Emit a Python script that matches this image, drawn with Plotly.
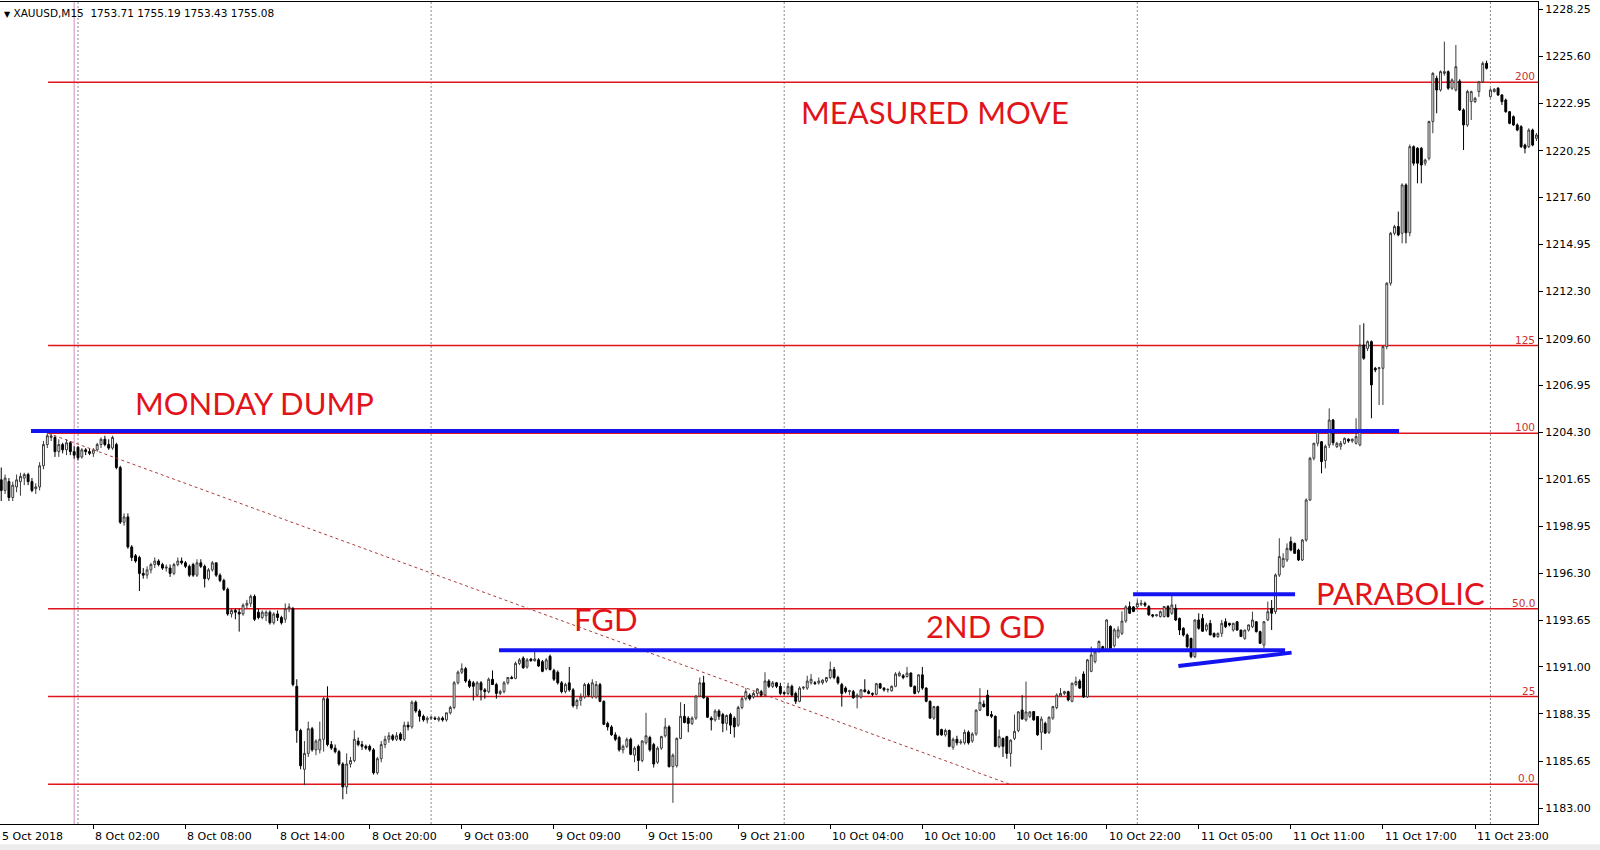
import plotly.graph_objects as go

# ---------------- data (XAUUSD M15, bar index 0 = 5 Oct 19:00) ----------------
opens = [
 1201.6,1201.0,1201.5,1200.6,1201.2,1201.5,1201.7,1201.9,1201.5,1201.1,
 1201.2,1202.4,1203.6,1204.0,1204.0,1203.2,1203.6,1203.3,1203.7,1203.2,
 1203.45,1202.9,1203.3,1203.2,1203.1,1203.3,1203.6,1203.9,1203.6,1203.4,
 1203.6,1202.3,1199.2,1199.5,1197.8,1197.3,1197.2,1196.3,1196.2,1196.5,
 1196.8,1197.0,1196.8,1196.6,1196.6,1196.3,1196.8,1197.0,1196.9,1196.7,
 1196.8,1196.2,1196.9,1196.7,1196.0,1196.5,1196.9,1196.2,1195.9,1195.4,
 1194.0,1194.2,1194.1,1194.0,1194.5,1194.6,1195.0,1194.1,1193.8,1193.9,
 1194.1,1193.5,1194.0,1193.8,1193.7,1194.3,1194.3,1189.9,1187.4,1185.2,
 1186.1,1187.5,1186.3,1186.3,1186.9,1189.2,1186.6,1186.4,1186.2,1185.5,
 1184.2,1185.5,1185.7,1186.8,1186.6,1186.5,1186.5,1186.3,1185.0,1185.8,
 1186.6,1186.9,1187.1,1186.9,1187.2,1186.9,1187.7,1187.6,1189.0,1188.5,
 1188.2,1188.0,1188.1,1188.1,1188.0,1188.1,1188.0,1188.4,1188.7,1190.1,
 1190.7,1190.9,1190.2,1190.1,1189.4,1190.1,1189.7,1189.6,1190.3,1190.0,
 1189.5,1189.6,1190.1,1190.4,1190.35,1191.2,1191.5,1191.0,1191.45,1191.35,
 1191.4,1191.3,1190.9,1191.6,1190.8,1190.7,1190.1,1189.6,1190.1,1189.7,
 1188.8,1189.1,1189.3,1190.0,1189.3,1189.3,1190.0,1189.05,1187.8,1187.6,
 1187.15,1187.0,1186.3,1186.5,1186.9,1186.0,1186.5,1185.7,1186.7,1187.0,
 1186.6,1185.6,1186.4,1187.1,1187.6,1185.35,1185.4,1186.95,1188.2,1188.1,
 1187.8,1188.1,1189.35,1190.1,1189.25,1188.1,1188.0,1188.5,1188.3,1187.8,
 1188.3,1188.1,1187.7,1188.7,1189.2,1189.4,1189.3,1189.5,1189.6,1189.4,
 1190.2,1189.9,1190.1,1189.9,1189.55,1189.5,1189.9,1189.5,1189.05,1189.8,
 1189.8,1190.1,1190.1,1190.1,1190.1,1190.2,1190.4,1190.85,1190.4,1190.0,
 1189.8,1189.6,1189.6,1189.3,1189.3,1189.7,1189.6,1189.5,1189.45,1190.05,
 1189.8,1189.7,1189.65,1189.9,1190.5,1190.5,1190.45,1190.65,1189.9,1189.6,
 1190.55,1189.8,1189.05,1188.1,1188.75,1187.45,1187.15,1187.4,1186.45,1186.9,
 1186.7,1186.7,1187.3,1186.8,1187.2,1188.55,1188.9,1189.4,1188.3,1188.2,
 1186.5,1186.95,1187.05,1186.1,1186.95,1187.4,1188.56,1188.0,1188.2,1188.47,
 1188.19,1187.3,1187.8,1187.3,1188.1,1188.7,1189.35,1189.5,1189.6,1189.05,
 1190.0,1190.2,1190.6,1189.3,1190.75,1191.3,1191.87,1192.15,1192.0,1193.3,
 1192.2,1192.7,1192.9,1193.6,1194.42,1194.4,1194.4,1194.55,1194.6,1194.42,
 1193.95,1193.9,1193.85,1193.85,1194.42,1194.04,1194.32,1193.75,1193.19,1192.81,
 1192.62,1191.58,1193.66,1193.75,1193.1,1193.47,1192.9,1192.72,1192.9,1193.56,
 1193.47,1193.09,1193.56,1193.09,1192.62,1193.09,1193.28,1193.56,1193.0,1192.24,
 1193.66,1194.32,1194.13,1196.21,1196.68,1197.06,1198.1,1198.0,1197.62,1197.06,
 1198.19,1200.46,1202.82,1203.67,1203.76,1202.7,1203.57,1204.99,1203.48,1203.5,
 1203.67,1203.9,1203.8,1203.67,1203.58,1209.24,1209.05,1209.43,1207.92,1207.9,
 1207.92,1209.15,1212.74,1215.57,1215.95,1215.57,1218.31,1215.6,1220.48,1220.39,
 1220.39,1219.54,1219.82,1221.9,1224.35,1223.69,1224.63,1224.73,1223.79,1223.69,
 1224.2,1222.56,1221.71,1223.03,1223.03,1223.6,1224.16,1225.2,1223.31,1223.6,
 1223.79,1223.41,1223.12,1222.46,1222.18,1221.71,1221.61,1220.57,1220.48,1221.42,
 1220.95]
highs = [
 1202.3,1201.9,1201.7,1201.5,1201.9,1202.0,1202.0,1202.0,1201.7,1201.4,
 1202.6,1203.8,1204.3,1204.3,1204.1,1203.9,1203.7,1203.9,1203.8,1203.5,
 1203.5,1203.4,1203.4,1203.4,1203.4,1203.7,1204.0,1204.1,1203.9,1204.1,
 1203.7,1202.4,1199.7,1199.7,1197.9,1197.4,1197.3,1196.6,1196.7,1196.9,
 1197.2,1197.1,1196.9,1196.8,1196.8,1196.9,1197.2,1197.2,1197.0,1196.8,
 1196.9,1197.1,1197.1,1196.8,1196.6,1197.0,1196.9,1196.3,1196.0,1195.5,
 1194.3,1194.3,1194.3,1194.6,1194.8,1195.1,1195.1,1194.3,1194.2,1194.2,
 1194.2,1194.1,1194.2,1193.9,1194.6,1194.6,1194.4,1190.3,1187.5,1186.8,
 1187.9,1187.6,1186.9,1187.9,1189.3,1189.9,1186.8,1186.6,1186.3,1185.6,
 1186.1,1185.9,1187.4,1187.0,1186.8,1186.6,1186.6,1186.4,1185.9,1186.8,
 1187.1,1187.3,1187.2,1187.3,1187.3,1187.9,1187.9,1189.1,1189.1,1188.6,
 1188.3,1188.2,1188.2,1188.2,1188.2,1188.2,1188.4,1188.8,1190.2,1190.8,
 1191.2,1191.0,1190.3,1190.2,1190.2,1190.2,1189.8,1190.4,1190.8,1190.1,
 1189.7,1190.2,1190.4,1190.5,1191.3,1191.5,1191.6,1191.5,1191.5,1191.9,
 1191.5,1191.4,1191.5,1191.7,1190.9,1190.8,1190.2,1190.1,1191.0,1189.8,
 1189.2,1189.5,1190.1,1190.1,1190.3,1190.2,1190.1,1189.1,1187.9,1187.7,
 1187.3,1187.1,1186.6,1187.0,1187.0,1186.5,1186.6,1186.85,1188.4,1187.1,
 1186.7,1186.5,1187.1,1188.1,1187.7,1186.1,1187.0,1189.0,1188.9,1188.2,
 1188.2,1189.4,1190.4,1190.5,1189.3,1188.2,1188.6,1188.6,1188.4,1188.3,
 1188.4,1188.2,1188.8,1189.3,1189.8,1189.5,1189.6,1189.8,1189.7,1190.7,
 1190.3,1190.2,1190.15,1190.1,1189.6,1190.1,1190.0,1189.6,1189.9,1189.9,
 1190.5,1190.6,1190.2,1190.4,1190.3,1190.4,1191.3,1191.0,1190.5,1190.1,
 1189.9,1189.7,1189.7,1189.5,1189.75,1190.3,1189.7,1189.55,1190.1,1190.1,
 1189.85,1189.8,1189.95,1190.7,1190.75,1190.6,1191.0,1190.7,1189.95,1190.6,
 1191.0,1189.85,1189.1,1188.8,1188.8,1187.5,1187.5,1187.45,1187.0,1187.1,
 1186.9,1187.45,1187.4,1187.3,1188.6,1189.8,1189.1,1189.7,1188.5,1188.25,
 1187.45,1187.0,1187.1,1186.9,1188.3,1188.5,1189.4,1190.17,1188.5,1188.5,
 1188.2,1188.2,1187.9,1188.2,1188.8,1189.5,1189.8,1189.65,1189.65,1190.1,
 1190.45,1190.3,1190.75,1191.45,1192.15,1191.9,1192.5,1192.2,1193.7,1193.35,
 1193.2,1193.3,1194.15,1194.5,1194.7,1194.45,1194.8,1194.8,1194.7,1194.5,
 1194.0,1194.0,1194.2,1194.45,1194.5,1195.13,1194.55,1193.8,1193.25,1192.9,
 1192.65,1193.7,1194.04,1194.0,1193.5,1193.66,1192.95,1192.95,1193.66,1193.75,
 1193.5,1193.5,1193.6,1193.1,1193.1,1193.4,1194.13,1193.6,1193.05,1193.6,
 1194.7,1194.79,1196.3,1198.29,1197.44,1198.0,1198.38,1198.05,1197.7,1198.25,
 1200.55,1202.9,1203.7,1204.42,1203.8,1203.6,1205.65,1205.05,1203.75,1203.8,
 1204.0,1203.95,1203.95,1205.09,1210.38,1210.47,1209.5,1209.5,1208.0,1208.0,
 1209.2,1212.8,1215.65,1216.05,1216.8,1218.4,1218.4,1220.6,1220.55,1220.45,
 1220.45,1219.8,1221.95,1224.7,1224.5,1224.8,1226.43,1224.8,1224.35,1226.24,
 1224.3,1222.65,1223.7,1223.65,1223.3,1224.2,1225.3,1225.35,1223.79,1223.8,
 1223.85,1223.45,1223.2,1222.5,1222.25,1221.8,1221.7,1220.65,1221.52,1221.5,
 1221.25]
lows = [
 1200.4,1200.8,1200.4,1200.4,1200.9,1200.7,1201.3,1201.3,1200.9,1200.8,
 1201.0,1202.2,1203.4,1203.8,1202.9,1202.9,1203.1,1203.0,1203.0,1202.8,
 1202.7,1202.8,1203.0,1203.0,1202.9,1203.2,1203.4,1203.5,1203.3,1203.3,
 1202.2,1199.1,1199.0,1197.7,1197.0,1196.9,1195.3,1196.0,1196.0,1196.3,
 1196.6,1196.7,1196.5,1196.4,1196.1,1196.2,1196.7,1196.8,1196.6,1196.1,
 1196.1,1196.1,1196.6,1195.5,1195.9,1196.4,1196.1,1195.8,1195.3,1193.9,
 1193.8,1193.7,1193.0,1193.9,1194.3,1194.4,1193.6,1193.7,1193.7,1193.6,
 1193.4,1193.4,1193.6,1193.4,1193.5,1194.1,1189.9,1186.7,1185.2,1184.3,
 1185.9,1186.2,1186.0,1186.1,1186.2,1186.5,1186.3,1186.1,1185.4,1183.5,
 1183.8,1185.3,1185.6,1186.5,1186.3,1186.3,1186.2,1184.9,1184.9,1185.6,
 1186.4,1186.7,1186.8,1186.8,1186.8,1186.8,1187.4,1187.5,1188.4,1187.9,
 1187.9,1187.8,1188.0,1188.0,1187.9,1187.9,1187.9,1188.3,1188.6,1190.0,
 1190.6,1190.1,1189.8,1189.1,1189.3,1189.1,1189.2,1189.5,1190.0,1189.2,
 1189.4,1189.5,1190.0,1190.3,1190.3,1191.1,1190.9,1190.9,1191.3,1191.3,
 1191.0,1190.7,1190.8,1190.8,1190.2,1190.0,1189.5,1189.5,1189.6,1188.7,
 1188.6,1188.8,1189.2,1189.3,1189.2,1189.2,1189.0,1187.7,1187.4,1187.1,
 1186.8,1186.2,1186.1,1186.4,1186.0,1185.6,1185.1,1185.6,1186.6,1186.2,
 1185.3,1185.5,1186.3,1187.0,1185.3,1183.3,1185.3,1186.9,1187.8,1187.3,
 1187.7,1188.0,1189.3,1189.2,1188.1,1187.4,1187.9,1188.0,1187.3,1187.4,
 1187.2,1187.0,1187.6,1188.6,1189.1,1189.1,1189.2,1189.3,1189.3,1189.3,
 1189.8,1189.8,1189.8,1189.4,1189.4,1189.4,1189.3,1188.9,1189.0,1189.7,
 1189.7,1190.0,1190.0,1190.0,1190.0,1190.1,1190.3,1190.3,1190.0,1188.75,
 1189.5,1189.4,1189.2,1188.65,1189.2,1189.55,1189.45,1189.35,1189.4,1189.75,
 1189.6,1189.55,1189.6,1189.85,1190.45,1190.3,1190.4,1189.85,1189.45,1189.5,
 1189.7,1189.0,1188.05,1188.0,1187.1,1187.1,1187.05,1186.45,1186.3,1186.55,
 1186.6,1186.6,1186.6,1186.7,1187.1,1188.5,1188.7,1188.2,1188.1,1186.45,
 1186.4,1185.9,1185.8,1185.35,1186.85,1187.3,1188.0,1187.9,1188.1,1187.95,
 1187.1,1186.3,1187.2,1187.2,1188.0,1188.6,1189.3,1189.4,1189.05,1189.0,
 1189.9,1189.75,1189.25,1189.25,1190.7,1191.2,1191.8,1191.9,1191.9,1192.0,
 1192.1,1192.6,1192.8,1193.5,1194.0,1194.1,1194.3,1194.45,1194.4,1193.9,
 1193.8,1193.85,1193.8,1193.8,1193.8,1193.95,1193.6,1192.81,1192.72,1192.05,
 1191.49,1191.5,1193.1,1193.0,1193.0,1192.8,1192.65,1192.65,1192.7,1193.2,
 1193.3,1193.0,1193.05,1192.7,1192.53,1193.0,1193.2,1192.95,1192.3,1192.05,
 1193.6,1193.09,1194.0,1196.1,1196.6,1196.95,1197.55,1197.4,1197.0,1197.0,
 1198.1,1200.4,1202.7,1203.5,1201.97,1202.25,1203.4,1203.55,1203.4,1203.3,
 1203.6,1203.7,1203.7,1203.6,1203.5,1208.4,1208.9,1205.09,1207.7,1205.84,
 1205.84,1209.0,1212.6,1215.45,1215.4,1215.0,1215.0,1215.4,1219.4,1218.4,
 1218.4,1219.4,1219.7,1221.24,1222.37,1223.6,1224.5,1223.7,1223.7,1223.6,
 1222.5,1220.29,1221.6,1221.99,1222.95,1223.3,1224.1,1224.85,1223.25,1223.55,
 1223.35,1222.84,1222.4,1221.75,1221.65,1221.35,1220.4,1220.1,1220.4,1220.5,
 1220.8]
closes = [
 1201.0,1201.7,1200.6,1201.3,1201.6,1201.8,1201.9,1201.5,1201.0,1201.2,
 1202.4,1203.6,1204.1,1204.1,1203.2,1203.6,1203.3,1203.7,1203.2,1203.0,
 1202.85,1203.3,1203.2,1203.1,1203.3,1203.6,1203.9,1203.6,1203.4,1204.0,
 1202.3,1199.2,1199.5,1197.8,1197.2,1197.0,1196.3,1196.2,1196.5,1196.8,
 1197.0,1196.8,1196.6,1196.65,1196.3,1196.8,1197.0,1196.9,1196.7,1196.2,
 1196.2,1196.9,1196.7,1196.0,1196.5,1196.9,1196.2,1195.9,1195.4,1194.0,
 1194.2,1194.1,1194.0,1194.5,1194.6,1195.0,1193.7,1193.8,1194.1,1194.1,
 1193.5,1194.0,1193.8,1193.5,1194.3,1194.4,1190.0,1187.4,1185.4,1186.1,
 1187.5,1186.3,1186.8,1186.9,1189.2,1186.6,1186.4,1186.2,1185.5,1184.2,
 1185.5,1185.7,1186.9,1186.6,1186.5,1186.4,1186.3,1185.0,1185.8,1186.6,
 1186.9,1187.1,1186.9,1187.1,1186.9,1187.7,1187.6,1189.0,1188.5,1188.2,
 1188.0,1188.1,1188.15,1188.05,1188.1,1188.0,1188.4,1188.7,1190.1,1190.7,
 1190.9,1190.2,1189.9,1189.9,1190.1,1189.7,1189.6,1190.3,1190.0,1189.5,
 1189.6,1190.1,1190.4,1190.35,1191.2,1191.4,1190.95,1191.4,1191.35,1191.45,
 1191.05,1190.75,1191.4,1190.85,1190.3,1190.1,1189.6,1190.0,1189.7,1188.8,
 1189.1,1189.3,1190.0,1189.4,1190.1,1190.0,1189.05,1187.75,1187.6,1187.15,
 1186.9,1186.3,1186.5,1186.9,1186.05,1186.4,1185.7,1186.8,1187.1,1186.3,
 1185.5,1186.4,1187.05,1187.6,1185.35,1186.0,1186.95,1188.2,1187.85,1187.8,
 1188.1,1189.35,1190.1,1189.25,1188.15,1188.0,1188.5,1188.2,1187.8,1188.25,
 1187.7,1187.6,1188.7,1189.2,1189.6,1189.2,1189.5,1189.75,1189.4,1190.2,
 1189.9,1190.1,1189.9,1189.5,1189.5,1189.9,1189.4,1189.05,1189.8,1189.85,
 1190.2,1190.3,1190.05,1190.2,1190.25,1190.4,1190.85,1190.4,1190.1,1189.5,
 1189.6,1189.65,1189.25,1189.4,1189.7,1189.6,1189.5,1189.45,1190.05,1189.8,
 1189.7,1189.72,1189.9,1190.6,1190.65,1190.4,1190.65,1189.9,1189.5,1190.55,
 1189.8,1189.05,1188.1,1188.75,1187.15,1187.15,1187.4,1186.5,1186.9,1186.7,
 1186.75,1187.3,1186.7,1187.2,1188.55,1189.0,1188.75,1188.25,1188.2,1186.5,
 1187.05,1186.5,1186.1,1186.85,1187.35,1188.45,1188.05,1188.45,1188.45,1188.0,
 1187.15,1188.05,1187.25,1188.15,1188.75,1189.4,1189.5,1189.6,1189.13,1190.08,
 1190.17,1189.8,1189.3,1191.4,1191.68,1191.85,1192.44,1191.96,1193.66,1192.06,
 1193.1,1193.1,1193.6,1194.4,1194.04,1194.14,1194.6,1194.6,1194.5,1193.95,
 1193.88,1193.95,1194.13,1194.42,1193.85,1194.51,1193.66,1193.09,1192.81,1192.15,
 1191.58,1193.66,1193.19,1193.02,1193.38,1192.81,1192.72,1192.9,1193.47,1193.28,
 1193.38,1193.47,1193.09,1192.72,1193.09,1193.38,1193.66,1193.0,1192.34,1193.56,
 1194.13,1194.04,1196.21,1197.25,1197.15,1197.72,1197.62,1197.44,1197.06,1198.19,
 1200.46,1202.82,1203.67,1204.33,1202.63,1203.5,1204.99,1203.7,1203.67,1203.67,
 1203.95,1203.8,1203.9,1204.05,1209.24,1208.49,1209.43,1206.98,1207.83,1207.95,
 1209.15,1212.74,1215.57,1215.95,1215.48,1218.31,1215.6,1220.48,1219.54,1219.54,
 1219.44,1219.72,1221.9,1224.63,1223.69,1224.73,1224.73,1223.79,1224.26,1225.01,
 1222.56,1221.71,1223.6,1223.6,1223.22,1224.16,1225.2,1224.92,1223.69,1223.73,
 1223.41,1223.03,1222.46,1221.8,1221.71,1221.42,1220.48,1220.39,1221.42,1220.57,
 1221.14]

bar_index = list(range(len(closes)))

x_tick_idx = [24, 48, 72, 96, 120, 144, 168, 192, 216, 240, 264, 288, 312, 336, 360, 384]
x_tick_text = ["8 Oct 02:00", "8 Oct 08:00", "8 Oct 14:00", "8 Oct 20:00",
               "9 Oct 03:00", "9 Oct 09:00", "9 Oct 15:00", "9 Oct 21:00",
               "10 Oct 04:00", "10 Oct 10:00", "10 Oct 16:00", "10 Oct 22:00",
               "11 Oct 05:00", "11 Oct 11:00", "11 Oct 17:00", "11 Oct 23:00"]
first_label = "5 Oct 2018"
y_tick_vals = [1228.25, 1225.60, 1222.95, 1220.25, 1217.60, 1214.95, 1212.30, 1209.60,
               1206.95, 1204.30, 1201.65, 1198.95, 1196.30, 1193.65, 1191.00, 1188.35,
               1185.65, 1183.00]
day_sep_idx = [20, 112, 204, 296, 388]
marker_idx = 19

fib_start_idx = 12.2
fib_levels = [1184.35, 1189.32, 1194.30, 1204.24, 1209.21, 1224.13]
fib_labels = ["0.0", "25", "50.0", "100", "125", "200"]
fib_trend = [(12.2, 1204.24), (262.8, 1184.35)]

blue_lines = [
    ((7.75, 1204.37), (364.2, 1204.37)),
    ((129.7, 1191.95), (334.5, 1191.95)),
    ((294.9, 1195.12), (337.1, 1195.12)),
    ((306.7, 1191.05), (336.2, 1191.81)),
]

labels = [
    ("MEASURED MOVE", 207.9, 1222.44),
    ("MONDAY DUMP", 34.25, 1205.95),
    ("FGD", 148.6, 1193.7),
    ("2ND GD", 240.3, 1193.32),
    ("PARABOLIC", 342.1, 1195.19),
]
header = "XAUUSD,M15\u00a0\u00a01753.71\u00a01755.19\u00a01753.43\u00a01755.08"

X_RANGE = [-0.323, 400.4]
Y_RANGE = [1182.10, 1228.675]

# ---------------- figure ----------------
fig = go.Figure()
fig.add_trace(go.Candlestick(
    x=bar_index, open=opens, high=highs, low=lows, close=closes,
    increasing=dict(line=dict(color="#3a3a3a", width=1), fillcolor="white"),
    decreasing=dict(line=dict(color="black", width=1), fillcolor="black"),
    whiskerwidth=0, hoverinfo="skip", showlegend=False,
))

shapes = []
for i in day_sep_idx:
    shapes.append(dict(type="line", xref="x", yref="paper", x0=i, x1=i, y0=0, y1=1,
                       line=dict(color="#8a8a8a", width=1, dash="2px,2px"), layer="below"))
shapes.append(dict(type="line", xref="x", yref="paper", x0=marker_idx, x1=marker_idx, y0=0, y1=1,
                   line=dict(color="rgb(210,140,190)", width=1), layer="below"))
for lv in fib_levels:
    shapes.append(dict(type="line", xref="x", yref="y", x0=fib_start_idx, x1=X_RANGE[1],
                       y0=lv, y1=lv, line=dict(color="#e0141c", width=1.5), layer="below"))
shapes.append(dict(type="line", xref="x", yref="y",
                   x0=fib_trend[0][0], y0=fib_trend[0][1], x1=fib_trend[1][0], y1=fib_trend[1][1],
                   line=dict(color="rgb(170,60,60)", width=1, dash="3px,3px")))
for (a, b) in blue_lines:
    shapes.append(dict(type="line", xref="x", yref="y", x0=a[0], y0=a[1], x1=b[0], y1=b[1],
                       line=dict(color="#1414f0", width=4)))
shapes.append(dict(type="rect", xref="paper", yref="paper", x0=0, x1=1.05, y0=-0.0245, y1=-0.04,
                   fillcolor="#ededed", line=dict(width=0)))

annotations = []
for t, xi, yp in labels:
    annotations.append(dict(text=t, x=xi, y=yp, xref="x", yref="y", xanchor="left", yanchor="middle",
                            showarrow=False, font=dict(family="Lato", size=31, color="#e2141b")))
for lab, lv in zip(fib_labels, fib_levels):
    annotations.append(dict(text=lab, x=1, y=lv, xref="paper", yref="y", xanchor="right",
                            yanchor="bottom", xshift=-1, yshift=-2, showarrow=False,
                            font=dict(family="DejaVu Sans", size=10.5, color="#c83232")))
for xi, t in zip(x_tick_idx, x_tick_text):
    annotations.append(dict(text=t, x=xi, y=0, xref="x", yref="paper", xanchor="left", yanchor="top",
                            yshift=-4, showarrow=False,
                            font=dict(family="DejaVu Sans", size=11, color="black")))
annotations.append(dict(text=first_label, x=0, y=0, xref="paper", yref="paper", xanchor="left",
                        yanchor="top", yshift=-4, xshift=0, showarrow=False,
                        font=dict(family="DejaVu Sans", size=11, color="black")))
annotations.append(dict(text='<span style="font-size:8px">\u25bc</span>\u00a0' + header,
                        x=0, y=1, xref="paper", yref="paper", xanchor="left", yanchor="top",
                        xshift=2, yshift=-3, showarrow=False,
                        font=dict(family="DejaVu Sans", size=10.5, color="black")))

fig.update_layout(
    width=1600, height=850, autosize=False,
    margin=dict(l=0, r=62, t=2, b=26, pad=0),
    paper_bgcolor="white", plot_bgcolor="white",
    shapes=shapes, annotations=annotations, showlegend=False,
    xaxis=dict(range=X_RANGE, type="linear", rangeslider=dict(visible=False),
               showgrid=False, zeroline=False, showline=True, linecolor="black", linewidth=1,
               mirror=True, ticks="outside", ticklen=4, tickcolor="black",
               tickvals=x_tick_idx, showticklabels=False, fixedrange=True),
    yaxis=dict(range=Y_RANGE, side="right", showgrid=False, zeroline=False, showline=True,
               linecolor="black", linewidth=1, mirror=True, ticks="outside", ticklen=4,
               tickcolor="black", tickvals=y_tick_vals,
               ticktext=["%.2f" % v for v in y_tick_vals],
               tickfont=dict(family="DejaVu Sans", size=11, color="black"), fixedrange=True),
)

fig.write_html("out.html", config={"displayModeBar": False},
               post_script="document.body.style.margin='0';document.body.style.overflow='hidden';")
